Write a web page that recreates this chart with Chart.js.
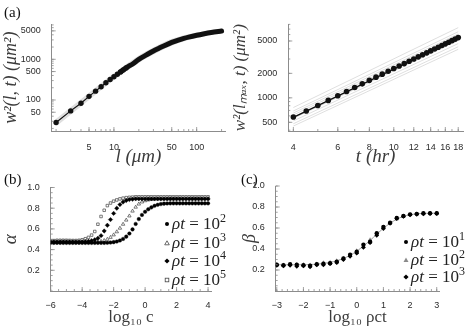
<!DOCTYPE html>
<html>
<head>
<meta charset="utf-8">
<script src="https://cdn.jsdelivr.net/npm/chart.js@4.4.0/dist/chart.umd.min.js"></script>
<style>
  html, body { margin: 0; padding: 0; background: #fff; }
  body { width: 469px; height: 326px; position: relative; overflow: hidden; }
  canvas { position: absolute; }
  .tag { position: absolute; font: 15px "Liberation Serif", serif; color: #111; }
  .leg { position: absolute; height: 20px; line-height: 20px; white-space: nowrap;
         font: 17px "Liberation Serif", serif; color: #222; }
  .leg svg { position: absolute; left: 0; top: 0; }
  .leg span { position: absolute; left: 10px; top: 0; }
  .leg sup { font-size: 12px; line-height: 0; }
</style>
</head>
<body>
<canvas id="aL" width="235" height="170" style="left:0;top:0"></canvas>
<canvas id="aR" width="239" height="170" style="left:230px;top:0"></canvas>
<canvas id="b" width="240" height="161" style="left:0;top:165px"></canvas>
<canvas id="c" width="237" height="161" style="left:232px;top:165px"></canvas>
<div class="tag" style="left:4px;top:4px">(a)</div>
<div class="tag" style="left:4px;top:171px">(b)</div>
<div class="tag" style="left:241px;top:171px">(c)</div>
<script>
'use strict';

/* ── (a) left: w²(l,t) vs l ── */
const lSmall  = [2, 3, 4, 5, 6, 7, 8, 9, 10, 11, 12, 13, 14];
const w2Small = [28, 54, 83, 123, 165, 212, 265, 318, 372, 430, 490, 550, 610];
const lCurve  = [12, 13, 14, 15, 17, 20, 25, 30, 35, 40, 50, 60, 70, 80, 100, 120, 150, 200];
const w2Curve = [490, 550, 610, 668, 780, 1000, 1300, 1600, 1870, 2130, 2600, 2980, 3280, 3520, 3900, 4200, 4550, 4950];
const lBand   = [2, 5, 10, 20, 30, 50, 80, 120, 200];
const w2Upper = [31, 136, 410, 1120, 1780, 2900, 3800, 4450, 5150];
const w2Lower = [25, 112, 340, 900, 1430, 2350, 3270, 3950, 4800];
const aLxTicks = [5, 10, 50, 100];
const aLyTicks = [50, 100, 500, 1000, 5000];

/* ── (a) right: w²(lmax,t) vs t ── */
const tVals = [4, 4.5, 5, 5.5, 6, 6.5, 7, 7.5, 8, 8.5, 9, 9.5, 10, 10.5, 11, 11.5, 12, 12.5, 13, 13.5, 14, 14.5, 15, 15.5, 16, 16.5, 17, 17.5, 18];
const w2Max = [580, 690, 805, 930, 1060, 1195, 1340, 1485, 1640, 1795, 1955, 2120, 2290, 2460, 2635, 2815, 3000, 3190, 3380, 3575, 3775, 3980, 4185, 4395, 4610, 4830, 5050, 5275, 5500];
const tEnds = [4, 18];
const w2Fit = [575, 5420];
const w2Fan = [[760, 7300], [690, 6500], [650, 6100], [615, 5750], [560, 5050], [520, 4650], [480, 4250], [450, 3950]];
const aRxTicks = [4, 6, 8, 10, 12, 14, 16, 18];
const aRyTicks = [500, 1000, 2000, 5000];

/* ── (b) alpha vs log10 c ── */
const cVals = [-6, -5.8, -5.6, -5.4, -5.2, -5, -4.8, -4.6, -4.4, -4.2, -4, -3.8, -3.6, -3.4, -3.2, -3, -2.8, -2.6, -2.4, -2.2, -2, -1.8, -1.6, -1.4, -1.2, -1, -0.8, -0.6, -0.4, -0.2, 0, 0.2, 0.4, 0.6, 0.8, 1, 1.2, 1.4, 1.6, 1.8, 2, 2.2, 2.4, 2.6, 2.8, 3, 3.2, 3.4, 3.6, 3.8, 4];
const alpha2 = [0.465, 0.465, 0.465, 0.465, 0.465, 0.465, 0.465, 0.465, 0.465, 0.465, 0.465, 0.465, 0.465, 0.465, 0.465, 0.465, 0.465, 0.465,
  0.466, 0.468, 0.472, 0.478, 0.488, 0.503, 0.525, 0.555, 0.595, 0.648, 0.695, 0.735, 0.765, 0.79, 0.808, 0.823, 0.833, 0.84, 0.844, 0.846,
  0.847, 0.847, 0.847, 0.847, 0.847, 0.847, 0.847, 0.847, 0.847, 0.847, 0.847, 0.847, 0.847];
const alpha3 = [0.47, 0.47, 0.47, 0.47, 0.47, 0.47, 0.47, 0.47, 0.47, 0.47, 0.47, 0.47, 0.47, 0.47,
  0.472, 0.475, 0.48, 0.488, 0.5, 0.518, 0.542, 0.572, 0.607, 0.645, 0.685, 0.725, 0.772, 0.81, 0.84, 0.86, 0.872, 0.88, 0.885, 0.888,
  0.89, 0.89, 0.89, 0.89, 0.89, 0.89, 0.89, 0.89, 0.89, 0.89, 0.89, 0.89, 0.89, 0.89, 0.89, 0.89, 0.89];
const alpha4 = [0.475, 0.475, 0.475, 0.475, 0.475, 0.475, 0.475, 0.475, 0.475, 0.475, 0.475,
  0.477, 0.48, 0.486, 0.495, 0.51, 0.535, 0.58, 0.635, 0.69, 0.75, 0.8, 0.835, 0.86, 0.875, 0.883, 0.887,
  0.89, 0.89, 0.89, 0.89, 0.89, 0.89, 0.89, 0.89, 0.89, 0.89, 0.89, 0.89, 0.89, 0.89, 0.89, 0.89, 0.89, 0.89, 0.89, 0.89, 0.89, 0.89, 0.89, 0.89];
const alpha5 = [0.485, 0.487, 0.49, 0.49, 0.49, 0.49, 0.489, 0.488, 0.488,
  0.49, 0.495, 0.505, 0.518, 0.54, 0.575, 0.645, 0.72, 0.78, 0.825, 0.85, 0.868, 0.88, 0.89, 0.897, 0.902, 0.905, 0.907,
  0.91, 0.91, 0.91, 0.91, 0.91, 0.91, 0.91, 0.91, 0.91, 0.91, 0.91, 0.91, 0.91, 0.91, 0.91, 0.91, 0.91, 0.91, 0.91, 0.91, 0.91, 0.91, 0.91, 0.91];
const bxTicks = [-6, -4, -2, 0, 2, 4];
const fracTicks = [0.2, 0.4, 0.6, 0.8, 1.0];

/* ── (c) beta vs log10 ρct ── */
const rctVals = [-3, -2.75, -2.5, -2.25, -2, -1.75, -1.5, -1.25, -1, -0.75, -0.5, -0.25, 0, 0.25, 0.5, 0.75, 1, 1.25, 1.5, 1.75, 2, 2.25, 2.5, 2.75, 3];
const betaFit = [0.25, 0.25, 0.25, 0.25, 0.25, 0.252, 0.256, 0.263, 0.273, 0.288, 0.31, 0.34, 0.38, 0.428, 0.482, 0.54, 0.597, 0.645, 0.683, 0.71, 0.726, 0.735, 0.739, 0.741, 0.742];
const beta1 = [0.25, 0.245, 0.255, 0.25, 0.245, 0.24, 0.255, 0.26, 0.265, 0.28, 0.31, 0.345, 0.375, 0.44, 0.47, 0.55, 0.61, 0.65, 0.695, 0.715, 0.73, 0.735, 0.74, 0.74, 0.74];
const beta2 = [0.255, 0.25, 0.25, 0.255, 0.255, 0.25, 0.26, 0.27, 0.275, 0.29, 0.315, 0.335, 0.385, 0.425, 0.49, 0.535, 0.6, 0.64, 0.685, 0.71, 0.725, 0.735, 0.74, 0.742, 0.742];
const beta3 = [0.245, 0.24, 0.245, 0.235, 0.24, 0.23, 0.25, 0.25, 0.26, 0.27, 0.3, 0.33, 0.36, 0.415, 0.46, 0.53, 0.595, 0.645, 0.69, 0.71, 0.725, 0.73, 0.735, 0.738, 0.738];
const cxTicks = [-3, -2, -1, 0, 1, 2, 3];

/* ── shared styling ── */
const AXIS = '#8c8c8c', TXT = '#2b2b2b', TITLE = '#3c3c3c';
const tickFont = { family: 'Liberation Sans, Arial, sans-serif', size: 9 };
const serif = (size, style) => ({ family: 'Liberation Serif, serif', size, style: style || 'normal' });
const zip = (xs, ys) => xs.map((x, i) => ({ x, y: ys[i] }));
const minusFmt = v => String(v).replace('-', '\u2212');

function logMinor(lo, hi) {
  const out = [];
  for (let e = Math.floor(Math.log10(lo)); e <= Math.ceil(Math.log10(hi)); e++)
    for (let k = 1; k < 10; k++) out.push(k * Math.pow(10, e));
  return out;
}
function stepMinor(lo, hi, step) {
  const out = [];
  for (let v = lo; v <= hi + 1e-9; v += step) out.push(+v.toFixed(4));
  return out;
}

// Mathematica-style ticks pointing into the plot
const innerTicks = {
  id: 'innerTicks',
  afterDraw(chart, args, opts) {
    const { ctx, chartArea: a } = chart;
    ctx.save();
    ctx.strokeStyle = AXIS;
    ctx.lineWidth = 0.8;
    ['x', 'y'].forEach(id => {
      const s = chart.scales[id];
      const mark = (v, len) => {
        if (v < s.min || v > s.max) return;
        const p = s.getPixelForValue(v);
        ctx.beginPath();
        if (id === 'x') { ctx.moveTo(p, a.bottom); ctx.lineTo(p, a.bottom - len); }
        else { ctx.moveTo(a.left, p); ctx.lineTo(a.left + len, p); }
        ctx.stroke();
      };
      (opts[id] || []).forEach(v => mark(v, 2));
      s.ticks.forEach(t => mark(t.value, 4));
    });
    ctx.restore();
  },
};

function axis(o) {
  return {
    type: o.type || 'linear',
    position: o.pos,
    min: o.min, max: o.max,
    afterBuildTicks: s => { s.ticks = o.ticks.map(v => ({ value: v })); },
    afterFit: s => { if (o.pos === 'left') s.width = o.size; else s.height = o.size; },
    grid: { display: false },
    border: { display: true, color: AXIS, width: 1 },
    ticks: { font: tickFont, color: TXT, padding: o.tickPad ?? 3, autoSkip: false, maxRotation: 0, callback: o.fmt || (v => String(v)) },
    title: { display: true, text: o.title, font: o.tfont, color: TITLE, padding: o.tpad },
  };
}

function makeChart(id, datasets, xs, ys, pad, minor) {
  return new Chart(document.getElementById(id), {
    type: 'line',
    data: { datasets },
    options: {
      responsive: false,
      animation: false,
      layout: { padding: pad },
      plugins: { legend: { display: false }, tooltip: { enabled: false }, innerTicks: minor },
      scales: { x: xs, y: ys },
    },
    plugins: [innerTicks],
  });
}

const pts = (data, style, r, fill, stroke, bw) => ({
  data, showLine: false, pointStyle: style, pointRadius: r,
  pointBackgroundColor: fill, pointBorderColor: stroke, pointBorderWidth: bw,
});
const line = (data, color, width, extra) => Object.assign({
  data, borderColor: color, borderWidth: width, pointRadius: 0, fill: false,
}, extra || {});

/* (a) left */
makeChart('aL', [
  Object.assign(line(zip(lSmall, w2Small), '#111', 1.2), { pointRadius: 2.7, pointBackgroundColor: '#111', pointBorderWidth: 0 }),
  line(zip(lCurve, w2Curve), '#111', 5, { tension: 0.3, borderCapStyle: 'round' }),
  line(zip(lBand, w2Upper), 'rgba(0,0,0,0.13)', 3, { tension: 0.3 }),
  line(zip(lBand, w2Lower), 'rgba(0,0,0,0.13)', 3, { tension: 0.3 }),
],
  axis({ type: 'logarithmic', pos: 'bottom', min: 1.77, max: 220, ticks: aLxTicks, size: 39,
         title: 'l (μm)', tfont: serif(19, 'italic'), tpad: { top: 0, bottom: 2 } }),
  axis({ type: 'logarithmic', pos: 'left', min: 17.3, max: 7250, ticks: aLyTicks, size: 51.7,
         title: 'w²(l, t) (μm²)', tfont: serif(18, 'italic'), tpad: { top: 0, bottom: 0 } }),
  { top: 24.3, right: 10, left: 0, bottom: 0 },
  { x: logMinor(1.77, 220), y: logMinor(17.3, 7250) });

/* (a) right */
makeChart('aR', [
  pts(zip(tVals, w2Max), 'circle', 2.8, '#111', '#111', 0),
  line(zip(tEnds, w2Fit), '#111', 1.5),
  ...w2Fan.map(f => line(zip(tEnds, f), 'rgba(0,0,0,0.13)', 1)),
],
  axis({ type: 'logarithmic', pos: 'bottom', min: 3.82, max: 18.8, ticks: aRxTicks, size: 39,
         title: 't (hr)', tfont: serif(19, 'italic'), tpad: { top: 0, bottom: 2 } }),
  axis({ type: 'logarithmic', pos: 'left', min: 391, max: 8020, ticks: aRyTicks, size: 58.3,
         title: 'w²(lₘₐₓ, t) (μm²)', tfont: serif(17, 'italic'), tpad: { top: 0.5, bottom: 0 } }),
  { top: 24.3, right: 6, left: 0, bottom: 0 },
  { x: stepMinor(4, 18, 1), y: logMinor(391, 8020) });

/* (b) */
makeChart('b', [
  pts(zip(cVals, alpha2), 'circle', 1.8, '#000', '#000', 0.4),
  pts(zip(cVals, alpha4), 'rectRot', 2.2, '#000', '#000', 0.4),
  pts(zip(cVals, alpha3), 'triangle', 2.0, '#fff', '#444', 0.7),
  pts(zip(cVals, alpha5), 'rect', 1.8, '#fff', '#444', 0.7),
],
  axis({ pos: 'bottom', min: -6, max: 4.2, ticks: bxTicks, size: 35, fmt: minusFmt, tickPad: 1,
         title: 'log₁₀ c', tfont: serif(17), tpad: { top: 0, bottom: -2 } }),
  axis({ pos: 'left', min: 0, max: 1, ticks: fracTicks, size: 50.7, fmt: v => v.toFixed(1),
         title: 'α', tfont: serif(19, 'italic'), tpad: { top: 0, bottom: 0 } }),
  { top: 22.5, right: 28.8, left: 0, bottom: 0 },
  { x: stepMinor(-6, 4, 0.5), y: stepMinor(0, 1, 0.05) });

/* (c) */
makeChart('c', [
  pts(zip(rctVals, beta1), 'circle', 2.2, '#000', '#000', 0),
  pts(zip(rctVals, beta3), 'rectRot', 2.4, '#000', '#000', 0),
  pts(zip(rctVals, beta2), 'triangle', 2.3, '#8a8a8a', '#8a8a8a', 0),
  line(zip(rctVals, betaFit), '#9a9a9a', 1, { tension: 0.4 }),
],
  axis({ pos: 'bottom', min: -3.04, max: 3.1, ticks: cxTicks, size: 35, fmt: minusFmt, tickPad: 1,
         title: 'log₁₀ ρct', tfont: serif(17), tpad: { top: 0, bottom: -2 } }),
  axis({ pos: 'left', min: 0, max: 1, ticks: fracTicks, size: 43.7, fmt: v => v.toFixed(1),
         title: 'β', tfont: serif(18, 'italic'), tpad: { top: 7, bottom: 0 } }),
  { top: 21, right: 29.6, left: 0, bottom: 0 },
  { x: stepMinor(-3, 3, 0.2), y: stepMinor(0, 1, 0.05) });

/* legends (HTML text) */
const MARK = {
  circle:  (c) => `<circle cx="5" cy="10" r="2" fill="${c}"/>`,
  diamond: (c) => `<polygon points="5,7.4 7.6,10 5,12.6 2.4,10" fill="${c}"/>`,
  triOpen: (c) => `<polygon points="5,7.8 7.3,11.8 2.7,11.8" fill="#fff" stroke="${c}" stroke-width="0.8"/>`,
  triFill: (c) => `<polygon points="5,7.6 7.5,11.9 2.5,11.9" fill="${c}"/>`,
  sqOpen:  (c) => `<rect x="3.2" y="8.2" width="3.6" height="3.6" fill="#fff" stroke="${c}" stroke-width="0.8"/>`,
};
function legend(x, ys, exps, marks) {
  exps.forEach((e, i) => {
    const row = document.createElement('div');
    row.className = 'leg';
    row.style.left = x + 'px';
    row.style.top = (ys[i] - 10) + 'px';
    row.innerHTML = `<svg width="10" height="20">${marks[i]}</svg><span><i>ρt</i> = 10<sup>${e}</sup></span>`;
    document.body.appendChild(row);
  });
}
legend(162, [224, 242.5, 261, 279.5], ['2', '3', '4', '5'],
  [MARK.circle('#000'), MARK.triOpen('#444'), MARK.diamond('#000'), MARK.sqOpen('#444')]);
legend(401, [242, 259.5, 277], ['1', '2', '3'],
  [MARK.circle('#000'), MARK.triFill('#8a8a8a'), MARK.diamond('#000')]);
</script>
</body>
</html>
